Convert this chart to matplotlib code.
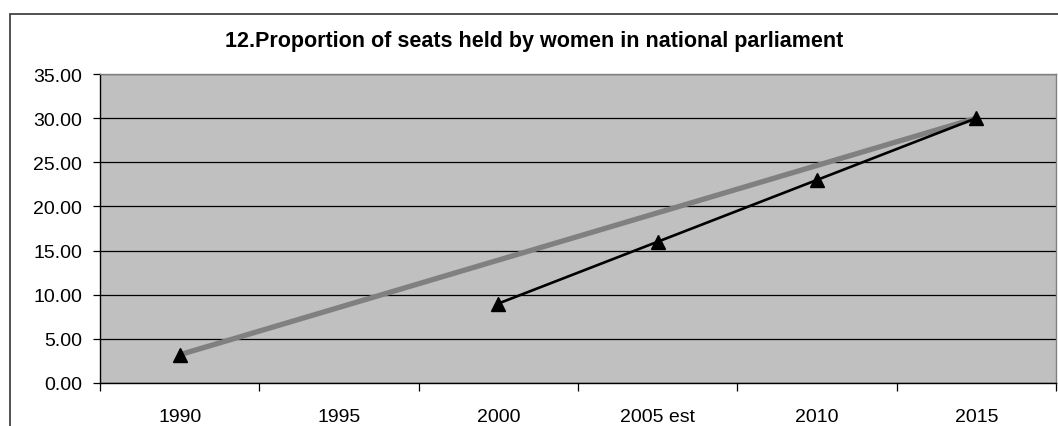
import numpy as np
import matplotlib
matplotlib.use("Agg")
import matplotlib.pyplot as plt
from matplotlib.patches import Rectangle
from matplotlib.ticker import FormatStrFormatter

plt.rcParams['font.family'] = ['Liberation Sans', 'DejaVu Sans']

# Data
years = ["1990", "1995", "2000", "2005 est", "2010", "2015"]
actual = [3.2, np.nan, 9.0, 16.0, 23.0, 30.0]
target = [3.2, np.nan, np.nan, np.nan, np.nan, 30.0]
title = "12.Proportion of seats held by women in national parliament"

W, H = 1058, 427
fig = plt.figure(figsize=(W / 100, H / 100), dpi=100)

# chart area outline (runs off the right and bottom edges)
fig.patches.append(Rectangle((10 / W, -0.2), 1.2, 1 - 15 / H + 0.2,
                             transform=fig.transFigure, fill=False,
                             edgecolor="#333333", linewidth=1.2))

ax = fig.add_axes([100 / W, 1 - 384 / H, (1056 - 100) / W, (384 - 75) / H])
ax.set_facecolor("#C0C0C0")

x = np.arange(len(years))

# target line: only the end points are given, the line joins them
t = np.array(target)
ok = ~np.isnan(t)
ax.plot(x[ok], t[ok], color="#808080", linewidth=3.8, solid_capstyle="butt", zorder=3)

# actual values, gap at 1995
ax.plot(x, actual, color="black", linewidth=1.9, marker="^", markersize=10,
        markerfacecolor="black", zorder=4)

ax.set_xlim(-0.5, len(years) - 0.5)
ax.set_ylim(0, 35)
ax.set_yticks(np.arange(0, 36, 5))
ax.yaxis.set_major_formatter(FormatStrFormatter('%.2f'))
ax.yaxis.grid(True, color="black", linewidth=0.9)
ax.set_axisbelow(True)

ax.set_xticks(x)
ax.set_xticklabels(years)
ax.set_xticks(np.arange(-0.5, len(years), 1.0), minor=True)
ax.tick_params(axis="x", which="major", length=0, pad=18, labelsize=14)
ax.tick_params(axis="x", which="minor", length=6, width=0.9, color="black")
ax.tick_params(axis="y", length=5, width=0.9, pad=8, labelsize=14)

for side in ["top", "right"]:
    ax.spines[side].set_color("#808080")
    ax.spines[side].set_linewidth(1.0)
for side in ["left", "bottom"]:
    ax.spines[side].set_color("black")
    ax.spines[side].set_linewidth(1.0)

fig.text(0.5 * (222 + 847) / W, 1 - 42 / H, title, ha="center", va="center",
         fontsize=15.5, fontweight="bold")

fig.savefig("out.png", dpi=100)
